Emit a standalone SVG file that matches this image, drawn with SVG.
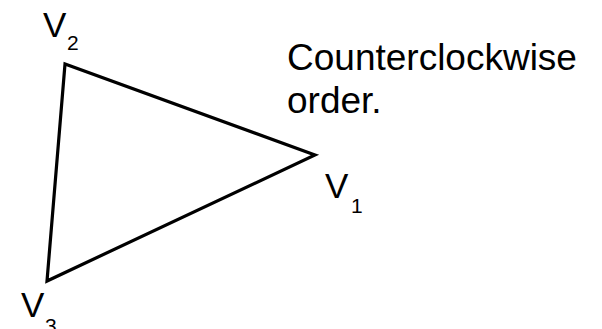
<svg xmlns="http://www.w3.org/2000/svg" width="602" height="329" viewBox="0 0 602 329">
<style>
text { font-family: "Liberation Sans", Arial, sans-serif; fill: #000; }
.v { font-size: 35px; }
.s { font-size: 21px; }
.t { font-size: 37px; }
.edge { fill: none; stroke: #000; stroke-width: 3.2; stroke-linejoin: miter; }
</style>
<rect width="602" height="329" fill="#fff"/>
<g id="connectors">
<polygon class="edge" points="315,155 65,64 47,281"/>
</g>
<g id="v1"><text class="v" x="325" y="198">V</text><text class="s" x="351" y="213">1</text></g>
<g id="v2"><text class="v" x="43" y="37">V</text><text class="s" x="67" y="50">2</text></g>
<g id="v3"><text class="v" x="21" y="317">V</text><text class="s" x="45" y="333">3</text></g>
<g id="caption"><text class="t" x="287" y="70">Counterclockwise</text><text class="t" x="287" y="113">order.</text></g>
</svg>
